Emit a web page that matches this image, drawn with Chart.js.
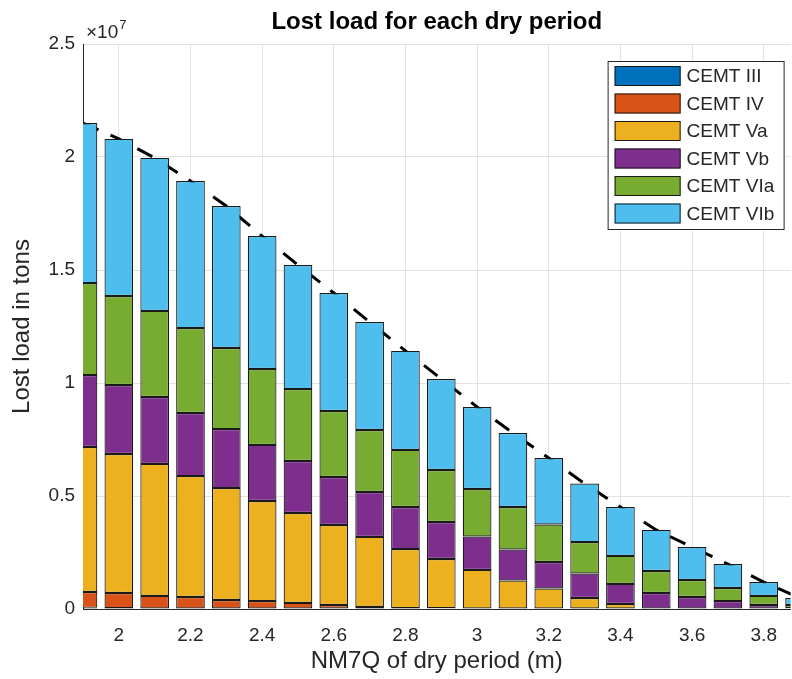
<!DOCTYPE html>
<html>
<head>
<meta charset="utf-8">
<script src="https://cdn.jsdelivr.net/npm/chart.js@4.4.1/dist/chart.umd.min.js"></script>
<style>
  html, body { margin: 0; padding: 0; background: #fff; overflow: hidden; }
</style>
</head>
<body>
<canvas id="chart" width="792" height="679"></canvas>
<script>
// NM7Q of each dry period (m)
const depths = [1.9, 2.0, 2.1, 2.2, 2.3, 2.4, 2.5, 2.6, 2.7, 2.8, 2.9, 3.0, 3.1, 3.2, 3.3, 3.4, 3.5, 3.6, 3.7, 3.8, 3.9];

// lost load per ship class (tons)
const cemtIII = [0.005e7, 0.004e7, 0.002e7, 0.002e7, 0, 0, 0, 0, 0, 0, 0, 0, 0, 0, 0, 0, 0, 0, 0, 0, 0];
const cemtIV = [0.070e7, 0.067e7, 0.056e7, 0.051e7, 0.040e7, 0.035e7, 0.027e7, 0.018e7, 0.009e7, 0.004e7, 0.003e7, 0, 0, 0, 0, 0, 0, 0, 0, 0, 0];
const cemtVa = [0.642e7, 0.615e7, 0.584e7, 0.535e7, 0.495e7, 0.443e7, 0.398e7, 0.354e7, 0.310e7, 0.261e7, 0.218e7, 0.173e7, 0.126e7, 0.091e7, 0.049e7, 0.022e7, 0, 0, 0, 0, 0];
const cemtVb = [0.318e7, 0.305e7, 0.296e7, 0.279e7, 0.261e7, 0.248e7, 0.230e7, 0.212e7, 0.199e7, 0.186e7, 0.164e7, 0.148e7, 0.137e7, 0.117e7, 0.108e7, 0.089e7, 0.071e7, 0.053e7, 0.035e7, 0.018e7, 0.003e7];
const cemtVIa = [0.407e7, 0.394e7, 0.381e7, 0.376e7, 0.359e7, 0.336e7, 0.318e7, 0.292e7, 0.274e7, 0.253e7, 0.230e7, 0.210e7, 0.188e7, 0.166e7, 0.139e7, 0.124e7, 0.097e7, 0.075e7, 0.058e7, 0.040e7, 0.015e7];
const cemtVIb = [0.708e7, 0.695e7, 0.677e7, 0.651e7, 0.628e7, 0.588e7, 0.549e7, 0.522e7, 0.478e7, 0.438e7, 0.403e7, 0.363e7, 0.328e7, 0.294e7, 0.259e7, 0.216e7, 0.182e7, 0.146e7, 0.106e7, 0.061e7, 0.031e7];

// dashed total line
const totalLine = [2.150e7, 2.080e7, 1.996e7, 1.894e7, 1.783e7, 1.650e7, 1.522e7, 1.398e7, 1.270e7, 1.142e7, 1.018e7, 0.894e7, 0.779e7, 0.668e7, 0.555e7, 0.451e7, 0.350e7, 0.274e7, 0.199e7, 0.119e7, 0.049e7];

// ticks
const xTicks = [2.0, 2.2, 2.4, 2.6, 2.8, 3.0, 3.2, 3.4, 3.6, 3.8];
const xTickLabels = ["2", "2.2", "2.4", "2.6", "2.8", "3", "3.2", "3.4", "3.6", "3.8"];
const yTicks = [0, 0.5e7, 1e7, 1.5e7, 2e7, 2.5e7];
const yTickLabels = ["0", "0.5", "1", "1.5", "2", "2.5"];

const seriesNames = ["CEMT III", "CEMT IV", "CEMT Va", "CEMT Vb", "CEMT VIa", "CEMT VIb"];
const seriesData = [cemtIII, cemtIV, cemtVa, cemtVb, cemtVIa, cemtVIb];
const seriesColors = ["#0072BD", "#D95319", "#EDB120", "#7E2F8E", "#77AC30", "#4DBEEE"];

const FONT = "'Liberation Sans', Arial, Helvetica, sans-serif";
const TEXT = "#262626";

const pairs = (vals) => depths.map((d, i) => ({ x: d, y: vals[i] }));

const barSets = seriesNames.map((name, i) => ({
  type: "bar",
  label: name,
  data: pairs(seriesData[i]),
  backgroundColor: seriesColors[i],
  borderColor: "#1a1a1a",
  borderWidth: 1.2,
  borderSkipped: false,
  stack: "loads",
  categoryPercentage: 0.8,
  barPercentage: 1.0,
  clip: 0,
}));

const lineSet = {
  type: "line",
  label: "total",
  data: pairs(totalLine),
  borderColor: "#000",
  borderWidth: 3,
  borderDash: [17, 13],
  pointRadius: 0,
  fill: false,
  stack: "trend",
  clip: 0,
};

// legend drawn inside the axes, MATLAB style
const boxLegend = {
  id: "boxLegend",
  afterDraw(chart) {
    const { ctx, chartArea } = chart;
    const w = 176, h = 168;
    const left = chartArea.right - 7 - w;
    const top = chartArea.top + 17;
    ctx.save();
    ctx.fillStyle = "#fff";
    ctx.fillRect(left, top, w, h);
    ctx.strokeStyle = TEXT;
    ctx.lineWidth = 1;
    ctx.strokeRect(left + 0.5, top + 0.5, w, h);
    ctx.font = "19px " + FONT;
    ctx.textBaseline = "middle";
    seriesNames.forEach((name, i) => {
      const y = top + 5 + i * 27.5;
      ctx.fillStyle = seriesColors[i];
      ctx.fillRect(left + 7, y, 66, 20);
      ctx.strokeStyle = "#1a1a1a";
      ctx.strokeRect(left + 7.5, y + 0.5, 65, 19);
      ctx.fillStyle = TEXT;
      ctx.fillText(name, left + 79, y + 11);
    });
    ctx.restore();
  },
};

// x10^7 exponent above the y axis
const exponentLabel = {
  id: "exponentLabel",
  afterDraw(chart) {
    const { ctx, chartArea } = chart;
    ctx.save();
    ctx.fillStyle = TEXT;
    ctx.textBaseline = "alphabetic";
    ctx.font = "19px " + FONT;
    const x = chartArea.left + 3;
    const y = chartArea.top - 6;
    ctx.fillText("\u00d710", x, y);
    const w = ctx.measureText("\u00d710").width;
    ctx.font = "13px " + FONT;
    ctx.fillText("7", x + w + 1, y - 9);
    ctx.restore();
  },
};

new Chart(document.getElementById("chart"), {
  data: { datasets: [...barSets, lineSet] },
  options: {
    responsive: false,
    animation: false,
    layout: { padding: 0 },
    plugins: {
      legend: { display: false },
      tooltip: { enabled: false },
      title: {
        display: true,
        text: "Lost load for each dry period",
        color: "#000",
        fullSize: false,
        font: { family: FONT, size: 24, weight: "bold" },
        padding: { top: 8, bottom: 7.2 },
      },
    },
    scales: {
      x: {
        type: "linear",
        stacked: true,
        offset: false,
        min: 1.9,
        max: 3.875,
        afterBuildTicks: (scale) => {
          scale.ticks = xTicks.map((v) => ({ value: v }));
        },
        afterFit: (scale) => {
          scale.height = 70;
        },
        ticks: {
          color: TEXT,
          font: { family: FONT, size: 19 },
          padding: 15,
          maxRotation: 0,
          autoSkip: false,
          callback: (v, i) => xTickLabels[i],
        },
        grid: { color: "#e3e3e3", drawTicks: false, offset: false },
        border: { display: true, color: TEXT, width: 1 },
        title: {
          display: true,
          text: "NM7Q of dry period (m)",
          color: TEXT,
          font: { family: FONT, size: 24 },
          padding: { top: 0, bottom: 3.6 },
        },
      },
      y: {
        type: "linear",
        stacked: true,
        min: 0,
        max: 2.5e7,
        afterBuildTicks: (scale) => {
          scale.ticks = yTicks.map((v) => ({ value: v }));
        },
        afterFit: (scale) => {
          scale.width = 83;
        },
        ticks: {
          color: TEXT,
          font: { family: FONT, size: 19 },
          padding: 8,
          callback: (v, i) => yTickLabels[i],
        },
        grid: { color: "#e3e3e3", drawTicks: false },
        border: { display: true, color: TEXT, width: 1 },
        title: {
          display: true,
          text: "Lost load in tons",
          color: TEXT,
          font: { family: FONT, size: 24 },
          padding: { top: 7.6, bottom: 0 },
        },
      },
    },
  },
  plugins: [boxLegend, exponentLabel],
});
</script>
</body>
</html>
